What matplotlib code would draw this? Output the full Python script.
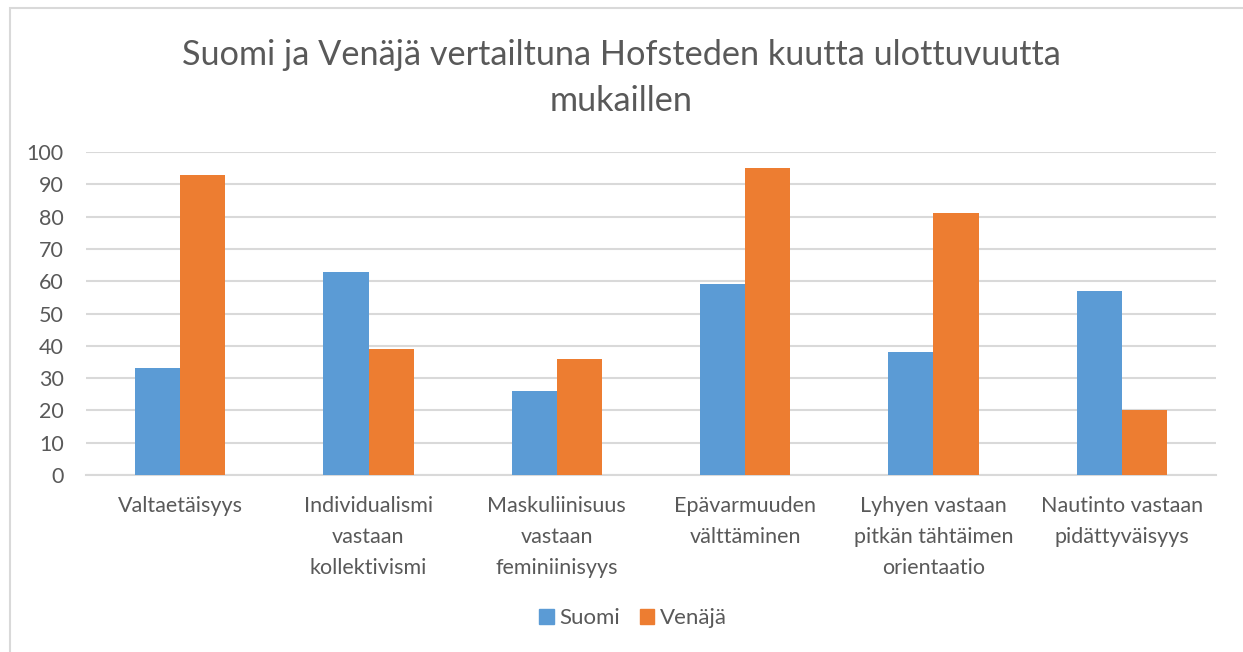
import numpy as np
import matplotlib.pyplot as plt
from matplotlib.patches import Rectangle, Patch

plt.rcParams['font.family'] = ['Lato', 'DejaVu Sans']

categories = ["Valtaetäisyys",
              "Individualismi\nvastaan\nkollektivismi",
              "Maskuliinisuus\nvastaan\nfeminiinisyys",
              "Epävarmuuden\nvälttäminen",
              "Lyhyen vastaan\npitkän tähtäimen\norientaatio",
              "Nautinto vastaan\npidättyväisyys"]
suomi = [33, 63, 26, 59, 38, 57]
venaja = [93, 39, 36, 95, 81, 20]
yticks = [0, 10, 20, 30, 40, 50, 60, 70, 80, 90, 100]

text_col = "#595959"
grid_col = "#D9D9D9"
blue = "#5B9BD5"
orange = "#ED7D31"

fig = plt.figure(figsize=(12.43, 6.52), dpi=100)
ax = fig.add_axes([86/1243, 177/652, 1130/1243, 323/652])

x = np.arange(len(categories))
w = 0.239
ax.bar(x - w/2, suomi, w, color=blue, zorder=3)
ax.bar(x + w/2, venaja, w, color=orange, zorder=3)

ax.set_xlim(-0.5, len(categories) - 0.5)
ax.set_ylim(0, 100)
ax.set_yticks(yticks)
ax.set_yticklabels([str(v) for v in yticks], fontsize=15.5, color=text_col)
ax.set_xticks(x)
ax.set_xticklabels(categories, fontsize=15.5, color=text_col, linespacing=1.68, va="top")
ax.tick_params(axis="both", length=0)
ax.tick_params(axis="x", pad=15)
ax.tick_params(axis="y", pad=16)
ax.grid(axis="y", color=grid_col, linewidth=1.5, zorder=0)
for s in ["top", "right", "left"]:
    ax.spines[s].set_visible(False)
ax.spines["bottom"].set_color(grid_col)
ax.spines["bottom"].set_linewidth(1.5)

fig.text(0.5, 1 - 78/652, "Suomi ja Venäjä vertailtuna Hofsteden kuutta ulottuvuutta\nmukaillen",
         ha="center", va="center", fontsize=24.7, color=text_col, linespacing=1.55)

handles = [Patch(color=blue, label="Suomi"), Patch(color=orange, label="Venäjä")]
fig.legend(handles=handles, loc="center", bbox_to_anchor=(633/1243, 1 - 618/652), ncol=2,
           frameon=False, fontsize=16, handlelength=0.65, handleheight=0.65,
           handletextpad=0.25, columnspacing=0.9, labelcolor=text_col)

# chart border, partly outside the image
fig.add_artist(Rectangle((10/1243, -0.1), 1.2, 1 - 8/652 + 0.1, transform=fig.transFigure,
                         fill=False, edgecolor=grid_col, linewidth=1.5))

fig.savefig("out.png", dpi=100)
